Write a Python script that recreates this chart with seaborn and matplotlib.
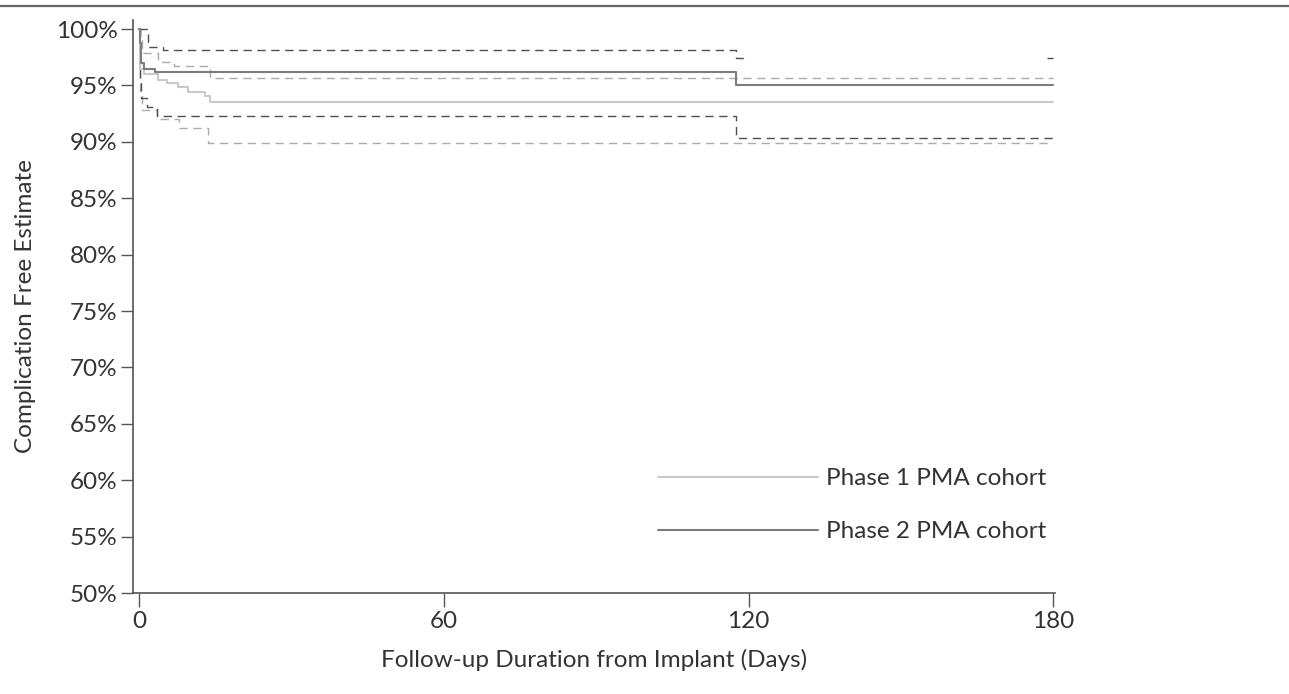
import pandas as pd
import matplotlib
matplotlib.use("Agg")
import matplotlib.pyplot as plt
import seaborn as sns
from matplotlib.lines import Line2D

# Kaplan-Meier style estimates (days, percent)
p1_t = [0, 0.2, 1.0, 3.8, 5.5, 7.7, 9.7, 13.0, 14.0, 180]
p1_est = [100, 96.5, 96.0, 95.5, 95.2, 94.9, 94.4, 94.1, 93.5, 93.5]
p1_up_t = [0, 0.2, 0.6, 3.8, 6.8, 14.0, 180]
p1_up = [100, 99.3, 97.9, 97.1, 96.7, 95.7, 95.7]
p1_lo_t = [0, 0.2, 0.6, 3.6, 7.9, 13.5, 180]
p1_lo = [100, 94.5, 92.8, 92.0, 91.2, 89.9, 89.9]

p2_t = [0, 0.1, 0.3, 1.0, 3.1, 117.5, 180]
p2_est = [100, 98.8, 97.0, 96.5, 96.2, 95.0, 95.0]
p2_up_t = [0, 1.8, 4.7, 117.5, 120.0]
p2_up = [100, 98.4, 98.1, 97.4, 97.4]
p2_up_end_t = [178.8, 180]
p2_up_end = [97.4, 97.4]
p2_lo_t = [0, 0.1, 0.3, 1.6, 3.6, 117.5, 180]
p2_lo = [100, 95.3, 93.9, 93.1, 92.3, 90.3, 90.3]

labels = ["Phase 1 PMA cohort", "Phase 2 PMA cohort"]
yticks = list(range(50, 101, 5))
xticks = [0, 60, 120, 180]

sns.set_theme(style="white")
plt.rcParams['font.family'] = ['Lato', 'DejaVu Sans']

light = "#c9c9c9"
light_d = "#ababab"
dark = "#7d7d7d"
dark_d = "#4f4f4f"
dash = (0, (6, 4))
fs = 17.5

fig = plt.figure(figsize=(12.89, 6.94), dpi=100)
ax = fig.add_axes([133 / 1289, 1 - 593 / 694, (1055 - 133) / 1289, (593 - 20) / 694])

def step(t, v, color, ls="-", lw=1.3):
    d = pd.DataFrame({"t": t, "v": v})
    sns.lineplot(data=d, x="t", y="v", ax=ax, color=color, linewidth=lw,
                 linestyle=ls, drawstyle="steps-post", estimator=None, sort=False)

step(p1_up_t, p1_up, light_d, dash, 1.0)
step(p1_lo_t, p1_lo, light_d, dash, 1.0)
step(p2_up_t, p2_up, dark_d, dash, 1.0)
step(p2_up_end_t, p2_up_end, dark_d, dash, 1.0)
step(p2_lo_t, p2_lo, dark_d, dash, 1.0)
step(p1_t, p1_est, light, "-", 1.5)
step(p2_t, p2_est, dark, "-", 1.5)

ax.set_xlim(-1.18, 180.3)
ax.set_ylim(50, 100.8)
ax.set_xticks(xticks)
ax.set_yticks(yticks)
ax.set_yticklabels([f"{y}%" for y in yticks])
ax.set_xlabel("Follow-up Duration from Implant (Days)", fontsize=fs, color="#333333", labelpad=12)
ax.set_ylabel("Complication Free Estimate", fontsize=fs, color="#333333", labelpad=14)
ax.tick_params(axis="both", labelsize=fs, colors="#333333", direction="out",
               left=True, bottom=True, color="#555555")
ax.tick_params(axis="y", length=9, width=1, pad=2)
ax.tick_params(axis="x", length=10, width=1, pad=3)
for s in ["top", "right"]:
    ax.spines[s].set_visible(False)
for s in ["left", "bottom"]:
    ax.spines[s].set_color("#555555")
    ax.spines[s].set_linewidth(1.2)

handles = [Line2D([], [], color=light, lw=1.5), Line2D([], [], color=dark, lw=1.5)]
ax.legend(handles, labels, loc="upper left", bbox_to_anchor=(658 / 1289, 1 - 468 / 694),
          bbox_transform=fig.transFigure, frameon=False, fontsize=fs,
          handlelength=6.6, handletextpad=0.3, labelspacing=1.33, borderpad=0,
          borderaxespad=0, labelcolor="#333333")

# rule across the top of the figure
fig.add_artist(Line2D([0, 1], [1 - 6 / 694, 1 - 6 / 694], color="#666666", lw=1.6,
                      transform=fig.transFigure))

fig.savefig("out.png", dpi=100)
